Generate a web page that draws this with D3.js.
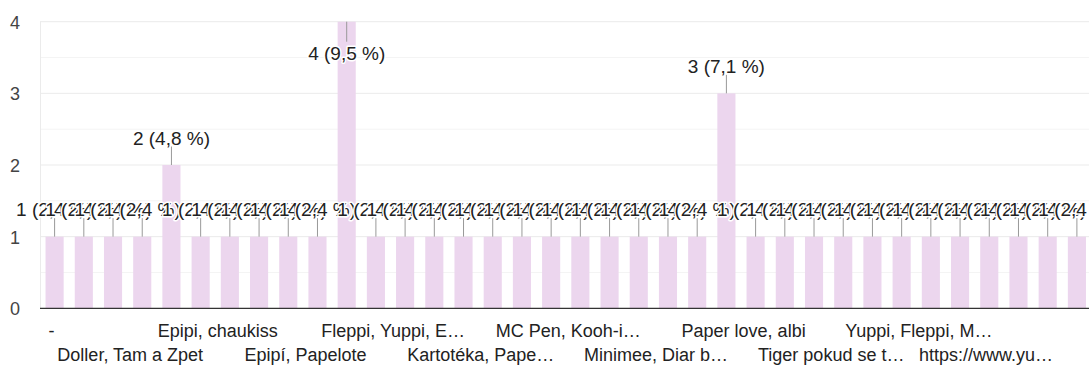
<!DOCTYPE html>
<html>
<head>
<meta charset="utf-8">
<script src="https://cdn.jsdelivr.net/npm/d3@7"></script>
<style>
  body { margin: 0; background: #fff; }
  svg { display: block; font-family: "Liberation Sans", Arial, sans-serif; }
</style>
</head>
<body>
<svg id="chart" width="1089" height="365"></svg>
<script>
// Answers (sorted like the form summary), only every third one gets an axis label
const categories = [
  "-", "Albi", "Centropen, Epipi", "Doller, Tam a Zpet", "Epipi", "Epipi, Albi",
  "Epipi, chaukiss", "Epipi, Fleppi", "Epipi, Yuppi", "Epipí, Papelote", "Fleppi", "Fleppi, Epipi",
  "Fleppi, Yuppi, E…", "Flying Tiger", "Hello Kitty", "Kartotéka, Pape…", "Kikki.K", "Koh-i-noor",
  "MC Pen, Kooh-i…", "MC Pen, Yuppi", "Minimee", "Minimee, Diar b…", "Muji", "Papelote",
  "Paper love, albi", "Pilot, Stabilo", "Stabilo", "Tiger pokud se t…", "Tiger, Epipi", "Yuppi",
  "Yuppi, Fleppi, M…", "Yuppi, Papelote", "Zebra", "https://www.yu…", "nevím", "žádný"
];
const counts = [
  1, 1, 1, 1, 2, 1,
  1, 1, 1, 1, 4, 1,
  1, 1, 1, 1, 1, 1,
  1, 1, 1, 1, 1, 3,
  1, 1, 1, 1, 1, 1,
  1, 1, 1, 1, 1, 1
];
const yTicks = [0, 1, 2, 3, 4];

const width = 1089, height = 365;
const plot = { left: 40, right: 1091.5, top: 21.7, bottom: 308.3 };
const font = "\"Liberation Sans\", Arial, sans-serif";
// the category labels sit a little left of the bar centres in the original
const labelShift = -12;

const total = d3.sum(counts);
const pct = v => d3.format(".1f")(v / total * 100).replace(".", ",");

const svg = d3.select("#chart");

const x = d3.scaleBand()
  .domain(categories)
  .range([plot.left, plot.right])
  .paddingInner(0.38)
  .paddingOuter(0.19);

const y = d3.scaleLinear()
  .domain([0, 4])
  .range([plot.bottom, plot.top]);

// minor gridlines at the halves, then major ones
const minor = d3.range(0.5, 4, 1);
svg.append("g").selectAll("line")
  .data(minor)
  .enter().append("line")
    .attr("x1", plot.left).attr("x2", width)
    .attr("y1", d => y(d)).attr("y2", d => y(d))
    .attr("stroke", "#f4f4f4").attr("stroke-width", 1);

svg.append("g").selectAll("line")
  .data(yTicks.filter(d => d > 0))
  .enter().append("line")
    .attr("x1", plot.left).attr("x2", width)
    .attr("y1", d => y(d)).attr("y2", d => y(d))
    .attr("stroke", "#ebebeb").attr("stroke-width", 1);

// left edge line of the plot area
svg.append("line")
  .attr("x1", plot.left + 0.5).attr("x2", plot.left + 0.5)
  .attr("y1", plot.top).attr("y2", plot.bottom)
  .attr("stroke", "#ebebeb");

// y axis labels
const yAxis = svg.append("g")
  .attr("transform", "translate(20,0)")
  .call(d3.axisLeft(y).tickValues(yTicks).tickSize(0).tickPadding(0).tickFormat(d3.format("d")));
yAxis.select(".domain").remove();
yAxis.selectAll("text")
  .attr("font-family", font)
  .attr("font-size", 18)
  .attr("fill", "#444")
  .attr("dy", "0.36em");

// bars
svg.append("g").selectAll("rect")
  .data(counts)
  .enter().append("rect")
    .attr("x", (d, i) => x(categories[i]))
    .attr("width", x.bandwidth())
    .attr("y", d => y(d))
    .attr("height", d => y(0) - y(d))
    .attr("fill", "#ecd6ee");

// baseline
svg.append("line")
  .attr("x1", plot.left).attr("x2", width)
  .attr("y1", y(0)).attr("y2", y(0))
  .attr("stroke", "#333").attr("stroke-width", 1.3);

// value annotations with stems; each one drawn halo first so the next label cuts into the previous
const annFont = 19;
const ann = svg.append("g");
counts.forEach((v, i) => {
  const cx = x(categories[i]) + x.bandwidth() / 2;
  const top = y(v);
  const flip = top - 20 - annFont * 0.75 < 0;
  const stemEnd = flip ? top + 20 : top - 18.5;
  const base = flip ? top + 38 : top - 20.5;
  ann.append("line")
    .attr("x1", cx).attr("x2", cx)
    .attr("y1", top).attr("y2", stemEnd)
    .attr("stroke", "#999").attr("stroke-width", 1);
  const label = v + " (" + pct(v) + " %)";
  ann.append("text")
    .attr("x", cx).attr("y", base)
    .attr("text-anchor", "middle")
    .attr("font-family", font).attr("font-size", annFont)
    .attr("fill", "none").attr("stroke", "#fff").attr("stroke-width", 3)
    .attr("stroke-linejoin", "round")
    .text(label);
  ann.append("text")
    .attr("x", cx).attr("y", base)
    .attr("text-anchor", "middle")
    .attr("font-family", font).attr("font-size", annFont)
    .attr("fill", "#222")
    .text(label);
});

// x labels: every third category, staggered on two rows
const xl = svg.append("g");
categories.forEach((c, i) => {
  if (i % 3 !== 0) return;
  const row = (i / 3) % 2;
  const t = xl.append("text")
    .attr("x", x(c) + x.bandwidth() / 2 + (i === 0 ? -3 : labelShift))
    .attr("y", row === 0 ? 337 : 361)
    .attr("text-anchor", "middle")
    .attr("font-family", font).attr("font-size", 18)
    .attr("fill", "#222")
    .text(c);
  // keep the label inside the chart
  const w = t.node().getComputedTextLength();
  const cx = +t.attr("x");
  if (cx + w / 2 > 1053) t.attr("x", 1053 - w / 2);
});
</script>
</body>
</html>
